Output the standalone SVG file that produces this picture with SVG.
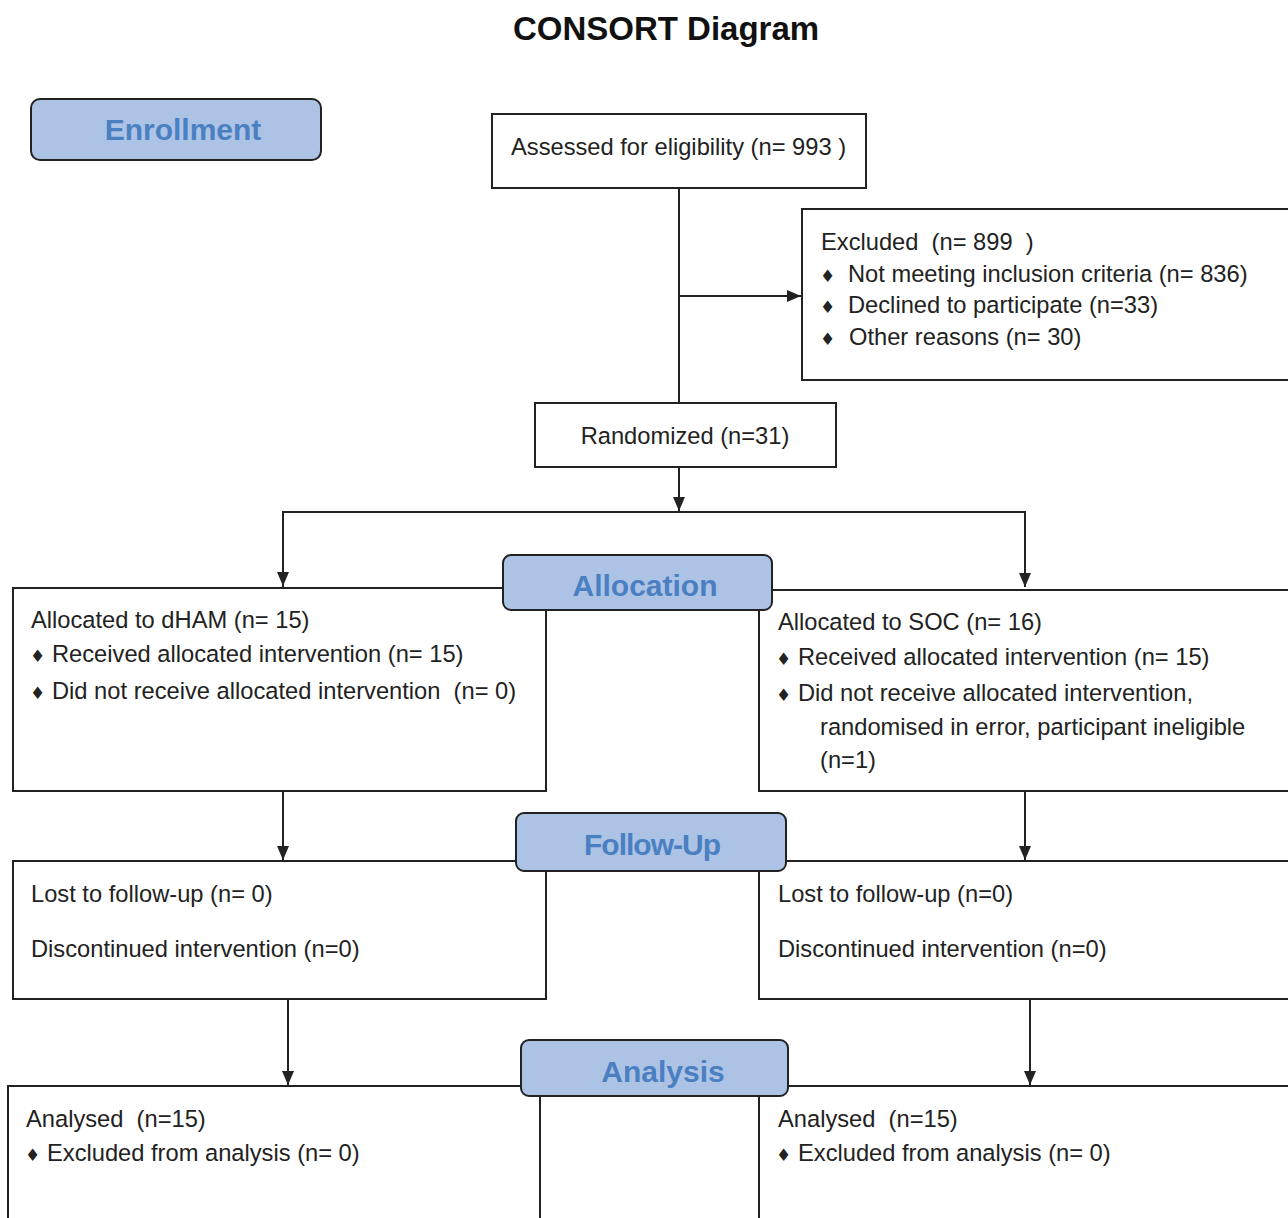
<svg xmlns="http://www.w3.org/2000/svg" width="1288" height="1218" viewBox="0 0 1288 1218">
<style>
.bg{fill:#fff}
.box{fill:#fff;stroke:#222;stroke-width:2}
.lab{fill:#adc3e5;stroke:#222;stroke-width:2}
.t{font-family:"Liberation Sans",Arial,sans-serif;font-size:23.7px;fill:#222}
.b{font-family:"DejaVu Sans",sans-serif;font-size:17px;fill:#222}
.lt{font-family:"Liberation Sans",Arial,sans-serif;font-size:30px;font-weight:bold;fill:#4a80c2;text-anchor:middle}
.title{font-family:"Liberation Sans",Arial,sans-serif;font-size:33px;font-weight:bold;fill:#111;text-anchor:middle}
.c{fill:none;stroke:#222;stroke-width:2}
</style>
<defs>
<marker id="ah" viewBox="0 0 14 12" refX="14" refY="6" markerWidth="14" markerHeight="12" markerUnits="userSpaceOnUse" orient="auto">
<path d="M0,0 L14,6 L0,12 Z" fill="#222"/>
</marker>
</defs>
<rect class="bg" width="1288" height="1218"/>
<text class="title" x="666" y="40">CONSORT Diagram</text>

<g id="connectors">
<path class="c" d="M679,188 V403"/>
<path class="c" d="M679,296 H801" marker-end="url(#ah)"/>
<path class="c" d="M679,467 V511" marker-end="url(#ah)"/>
<path class="c" d="M283,587 V512 H1025 V587" marker-end="url(#ah)"/>
<path class="c" d="M283,512 V586" marker-end="url(#ah)"/>
<path class="c" d="M283,791 V860" marker-end="url(#ah)"/>
<path class="c" d="M1025,791 V860" marker-end="url(#ah)"/>
<path class="c" d="M288,999 V1085" marker-end="url(#ah)"/>
<path class="c" d="M1030,999 V1085" marker-end="url(#ah)"/>
</g>

<g id="enrollment">
<rect class="lab" x="31" y="99" width="290" height="61" rx="9"/>
<text class="lt" x="183" y="140">Enrollment</text>
</g>

<g id="assessed">
<rect class="box" x="492" y="114" width="374" height="74"/>
<text class="t" x="511" y="155">Assessed for eligibility (n= 993 )</text>
</g>

<g id="excluded">
<rect class="box" x="802" y="209" width="490" height="171"/>
<text class="t" x="821" y="250" xml:space="preserve">Excluded  (n= 899  )</text>
<text class="b" x="820" y="282">♦</text><text class="t" x="848" y="282">Not meeting inclusion criteria (n= 836)</text>
<text class="b" x="820" y="313">♦</text><text class="t" x="848" y="313">Declined to participate (n=33)</text>
<text class="b" x="820" y="345">♦</text><text class="t" x="849" y="345">Other reasons (n= 30)</text>
</g>

<g id="randomized">
<rect class="box" x="535" y="403" width="301" height="64"/>
<text class="t" x="685" y="444" text-anchor="middle">Randomized (n=31)</text>
</g>

<g id="alloc-left">
<rect class="box" x="13" y="588" width="533" height="203"/>
<text class="t" x="31" y="628">Allocated to dHAM (n= 15)</text>
<text class="b" x="30" y="662">♦</text><text class="t" x="52" y="662">Received allocated intervention (n= 15)</text>
<text class="b" x="30" y="699">♦</text><text class="t" x="52" y="699" xml:space="preserve">Did not receive allocated intervention  (n= 0)</text>
</g>

<g id="alloc-right">
<rect class="box" x="759" y="590" width="533" height="201"/>
<text class="t" x="778" y="630">Allocated to SOC (n= 16)</text>
<text class="b" x="776" y="665">♦</text><text class="t" x="798" y="665">Received allocated intervention (n= 15)</text>
<text class="b" x="776" y="701">♦</text><text class="t" x="798" y="701">Did not receive allocated intervention,</text>
<text class="t" x="820" y="735">randomised in error, participant ineligible</text>
<text class="t" x="820" y="768">(n=1)</text>
</g>

<g id="allocation">
<rect class="lab" x="503" y="555" width="269" height="55" rx="8"/>
<text class="lt" x="645" y="596">Allocation</text>
</g>

<g id="followup-left">
<rect class="box" x="13" y="861" width="533" height="138"/>
<text class="t" x="31" y="902">Lost to follow-up (n= 0)</text>
<text class="t" x="31" y="957">Discontinued intervention (n=0)</text>
</g>

<g id="followup-right">
<rect class="box" x="759" y="861" width="533" height="138"/>
<text class="t" x="778" y="902">Lost to follow-up (n=0)</text>
<text class="t" x="778" y="957">Discontinued intervention (n=0)</text>
</g>

<g id="followup">
<rect class="lab" x="516" y="813" width="270" height="58" rx="8"/>
<text class="lt" x="652" y="855" letter-spacing="-1">Follow-Up</text>
</g>

<g id="analysis-left">
<rect class="box" x="8" y="1086" width="532" height="140"/>
<text class="t" x="26" y="1127" xml:space="preserve">Analysed  (n=15)</text>
<text class="b" x="25" y="1161">♦</text><text class="t" x="47" y="1161">Excluded from analysis (n= 0)</text>
</g>

<g id="analysis-right">
<rect class="box" x="759" y="1086" width="533" height="140"/>
<text class="t" x="778" y="1127" xml:space="preserve">Analysed  (n=15)</text>
<text class="b" x="776" y="1161">♦</text><text class="t" x="798" y="1161">Excluded from analysis (n= 0)</text>
</g>

<g id="analysis">
<rect class="lab" x="521" y="1040" width="267" height="56" rx="8"/>
<text class="lt" x="663" y="1082">Analysis</text>
</g>
</svg>
